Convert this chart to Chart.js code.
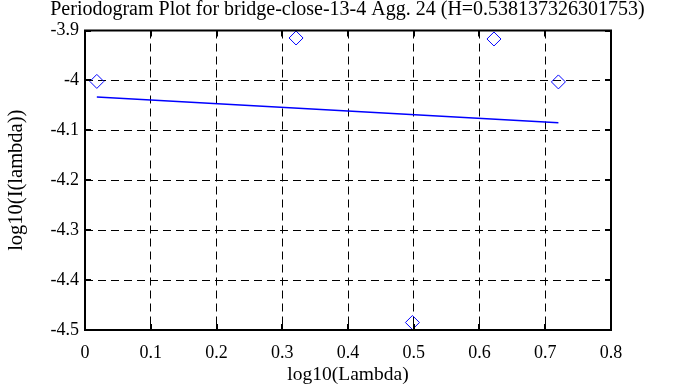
<!DOCTYPE html>
<html>
<head>
<meta charset="utf-8">
<script src="https://cdn.jsdelivr.net/npm/chart.js@4.4.1/dist/chart.umd.min.js"></script>
<style>
html,body{margin:0;padding:0;background:#fff;}
#wrap{width:695px;height:387px;position:relative;}
</style>
</head>
<body>
<div id="wrap"><canvas id="c" width="695" height="387"></canvas></div>
<script>
const titleText = "Periodogram Plot for bridge-close-13-4 Agg. 24 (H=0.538137326301753)";
const xTitle = "log10(Lambda)";
const yTitle = "log10(I(lambda))";
const pointX = [0.018, 0.321, 0.498, 0.622, 0.720];
const pointY = [-4.002, -3.915, -4.485, -3.917, -4.003];
const fitX = [0.018, 0.720];
const fitY = [-4.033, -4.085];
const xTicks = [0, 0.1, 0.2, 0.3, 0.4, 0.5, 0.6, 0.7, 0.8];
const yTicks = [-3.9, -4, -4.1, -4.2, -4.3, -4.4, -4.5];

const FONT = "'Liberation Serif', 'DejaVu Serif', serif";

const framePlugin = {
  id: 'frame',
  afterDatasetsDraw(chart) {
    const {ctx, chartArea: a, scales} = chart;
    ctx.save();
    ctx.strokeStyle = '#000';
    ctx.lineWidth = 2;
    ctx.setLineDash([]);
    ctx.beginPath();
    const tl = 6;
    xTicks.forEach(v => {
      const px = Math.round(scales.x.getPixelForValue(v));
      ctx.moveTo(px, a.bottom); ctx.lineTo(px, a.bottom - tl);
      ctx.moveTo(px, a.top); ctx.lineTo(px, a.top + tl);
    });
    yTicks.forEach(v => {
      const py = Math.round(scales.y.getPixelForValue(v));
      ctx.moveTo(a.left, py); ctx.lineTo(a.left + tl, py);
      ctx.moveTo(a.right, py); ctx.lineTo(a.right - tl, py);
    });
    ctx.stroke();
    ctx.strokeRect(a.left, a.top, a.right - a.left, a.bottom - a.top);
    ctx.restore();
  }
};

new Chart(document.getElementById('c'), {
  type: 'scatter',
  data: {
    datasets: [
      {
        data: pointX.map((x, i) => ({x, y: pointY[i]})),
        pointStyle: 'rectRot',
        pointRadius: 7,
        pointBorderWidth: 1,
        pointBorderColor: '#0000ff',
        pointBackgroundColor: 'rgba(0,0,0,0)',
        showLine: false
      },
      {
        data: fitX.map((x, i) => ({x, y: fitY[i]})),
        showLine: true,
        borderColor: '#0000ff',
        borderWidth: 1.5,
        pointRadius: 0,
        fill: false
      }
    ]
  },
  options: {
    responsive: false,
    animation: false,
    devicePixelRatio: 1,
    layout: {padding: 0},
    plugins: {
      legend: {display: false},
      tooltip: {enabled: false},
      title: {
        display: true,
        text: titleText,
        color: '#000',
        font: {family: FONT, size: 20, weight: 'normal', lineHeight: 1.0},
        padding: {top: 0, bottom: 10.5}
      }
    },
    scales: {
      x: {
        type: 'linear',
        min: 0, max: 0.8,
        afterBuildTicks: s => { s.ticks = xTicks.map(v => ({value: v})); },
        afterFit: s => { s.height = 57; },
        grid: {color: '#000', lineWidth: 1, drawTicks: false},
        border: {display: false, dash: [8, 5]},
        ticks: {
          color: '#000', font: {family: FONT, size: 18}, padding: 12,
          callback: v => String(+v.toFixed(1)), maxRotation: 0
        },
        title: {display: true, text: xTitle, color: '#000', font: {family: FONT, size: 19.5}, padding: {top: 0, bottom: 0}}
      },
      y: {
        type: 'linear',
        min: -4.5, max: -3.9,
        afterBuildTicks: s => { s.ticks = yTicks.map(v => ({value: v})); },
        afterFit: s => { s.width = 85; },
        grid: {color: '#000', lineWidth: 1, drawTicks: false},
        border: {display: false, dash: [8, 5]},
        ticks: {
          color: '#000', font: {family: FONT, size: 18}, padding: 6,
          callback: v => String(+v.toFixed(1))
        },
        title: {display: true, text: yTitle, color: '#000', font: {family: FONT, size: 20.5}, padding: {top: 4, bottom: 0}}
      },
      yRightGap: {
        type: 'linear',
        position: 'right',
        display: true,
        min: 0, max: 1,
        afterFit: s => { s.width = 84; },
        grid: {display: false, drawTicks: false},
        border: {display: false},
        ticks: {display: false},
        title: {display: false}
      }
    }
  },
  plugins: [framePlugin]
});
</script>
</body>
</html>
